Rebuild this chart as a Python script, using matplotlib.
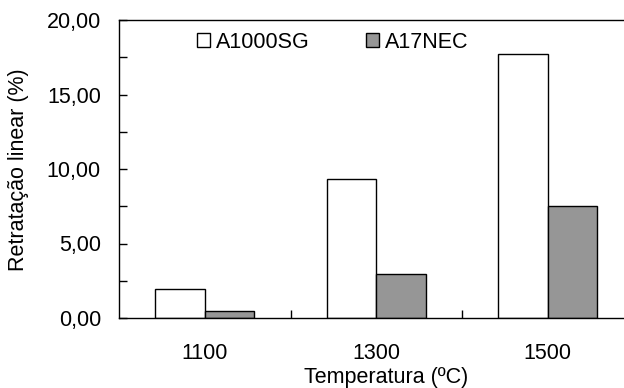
import matplotlib.pyplot as plt
import matplotlib.patches as mpatches
import numpy as np

plt.rcParams['font.family'] = ['Liberation Sans', 'DejaVu Sans']

temperaturas = ['1100', '1300', '1500']
a1000sg = [1.95, 9.35, 17.7]
a17nec = [0.45, 2.95, 7.55]
y_ticks = [0, 5, 10, 15, 20]
y_labels = ['0,00', '5,00', '10,00', '15,00', '20,00']

x = np.arange(len(temperaturas))
w = 0.29
cinza = '#969696'
fs = 15.5

fig = plt.figure(figsize=(6.24, 3.88), dpi=100)
ax = fig.add_axes([119 / 624, 1 - 318 / 388, 514.5 / 624, 298 / 388])

ax.bar(x - w / 2, a1000sg, w, color='white', edgecolor='black', linewidth=1)
ax.bar(x + w / 2, a17nec, w, color=cinza, edgecolor='black', linewidth=1)

ax.set_xlim(-0.5, 2.5)
ax.set_ylim(0, 20)
ax.set_yticks(y_ticks)
ax.set_yticklabels(y_labels)
ax.set_yticks(np.arange(2.5, 20, 5), minor=True)
ax.set_xticks(x)
ax.set_xticklabels(temperaturas)
ax.set_xticks([0.5, 1.5], minor=True)

ax.tick_params(axis='y', which='both', direction='in', length=6, width=1,
               labelsize=fs, pad=13)
ax.tick_params(axis='x', which='major', length=0, labelsize=fs, pad=18)
ax.tick_params(axis='x', which='minor', direction='in', length=6, width=1)

for s in ['left', 'top', 'bottom']:
    ax.spines[s].set_linewidth(1)
ax.spines['right'].set_visible(False)

ax.set_ylabel('Retratação linear (%)', fontsize=fs, va='center')
ax.yaxis.set_label_coords(19 / 624, 1 - 170 / 388, transform=fig.transFigure)
fig.text(386 / 624, 1 - 378 / 388, 'Temperatura (ºC)', fontsize=fs,
         ha='center', va='center')

handles = [mpatches.Patch(facecolor='white', edgecolor='black', linewidth=1),
           mpatches.Patch(facecolor=cinza, edgecolor='black', linewidth=1)]
ax.legend(handles, ['A1000SG', 'A17NEC'], ncol=2, frameon=False, fontsize=fs,
          loc='center left', bbox_to_anchor=(197 / 624, 1 - 42 / 388),
          bbox_transform=fig.transFigure, handlelength=0.6, handleheight=0.6,
          handletextpad=0.28, columnspacing=2.6, borderaxespad=0, borderpad=0)

fig.savefig('out.png', dpi=100)
